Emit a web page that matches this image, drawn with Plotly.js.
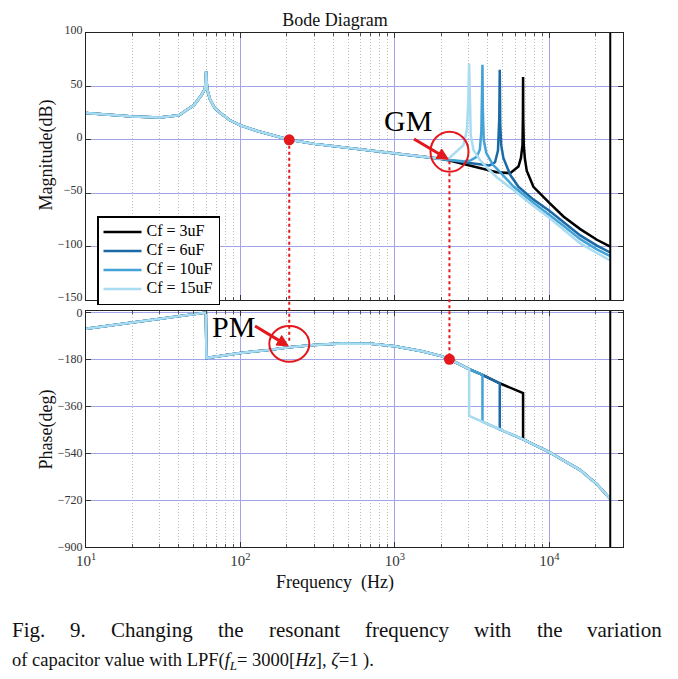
<!DOCTYPE html>
<html>
<head>
<meta charset="utf-8">
<script src="https://cdn.plot.ly/plotly-3.0.1.min.js"></script>
<style>
  html, body { margin: 0; padding: 0; background: #ffffff; }
  #chart { width: 678px; height: 679px; }
</style>
</head>
<body>
<div id="chart"></div>
<script>
// ---------------- DATA ----------------
const seriesNames = ['Cf = 3uF', 'Cf = 6uF', 'Cf = 10uF', 'Cf = 15uF'];
const resonanceHz = [6760, 4775, 3690, 3024];

// Magnitude (dB) – part shared by all four curves
const magFreqCommon = [10, 15, 20, 30, 40, 50, 56, 59, 59.7, 60, 60.3, 61, 63.5, 68, 74, 85, 100, 130, 160, 207, 300, 380, 500, 700, 1000, 1500, 2000];
const magCommon     = [25, 23.4, 21.8, 21, 23, 32.5, 42, 48, 56, 64, 56, 47, 38, 30, 25, 18.5, 13.5, 8, 4.5, 0, -3.8, -5.6, -7.3, -9.8, -12.5, -15.6, -17.8];

// Magnitude (dB) – individual parts above the gain-margin point
const magTailFreq3uF  = [2255, 2780, 3550, 4570, 5570, 6310, 6550, 6700, 6745, 6760, 6780, 6830, 6950, 7140, 7890, 10000, 12340, 15850, 20320, 24800];
const magTail3uF      = [-19.4, -22.5, -26.5, -30.3, -31.2, -25, -17, -5, 22, 58.7, 20, -5, -18, -29, -44, -59, -71.8, -83.6, -93.6, -100];
const magTailFreq6uF  = [2255, 2780, 3550, 4100, 4450, 4650, 4740, 4775, 4810, 4880, 5040, 5590, 6310, 7890, 10000, 12340, 15850, 20320, 24800];
const magTail6uF      = [-19, -21, -23, -24, -21, -10, 20, 65.5, 15, -5, -17, -33, -44, -56, -66.5, -77, -89.5, -99, -105.5];
const magTailFreq10uF = [2255, 2780, 3070, 3390, 3550, 3630, 3670, 3690, 3710, 3760, 3910, 4315, 4570, 5860, 7890, 10000, 12340, 15850, 20320, 24800];
const magTail10uF     = [-19, -20, -19.5, -16, -9, 8, 35, 70.2, 30, 0, -12.5, -23.4, -27, -43.7, -59, -70, -80.5, -93, -102.5, -109];
const magTailFreq15uF = [2255, 2518, 2780, 2925, 2990, 3024, 3050, 3100, 3226, 3554, 4000, 4570, 5860, 7890, 10000, 12340, 15850, 20320, 24800];
const magTail15uF     = [-17, -11, -5, 9, 38, 71.5, 30, 4, -9.4, -19, -27, -35, -47, -62, -73, -84, -97, -106, -113];

// Phase (deg) – shared part
const phaseFreqCommon = [10, 20, 30, 40, 50, 59.7, 60.3, 70, 80, 100, 150, 207, 300, 450, 700, 1000, 1500, 2000, 2255, 2518];
const phaseCommon     = [-63, -39, -25, -14.5, -7, -1, -175, -169, -164, -156, -145, -134, -125, -120, -121, -130, -149, -168, -180, -195];
// Phase (deg) – upper branch (before each resonance) and lower branch (after it)
const phaseUpperFreq = [3024, 3690, 4775, 6760];
const phaseUpper     = [-218, -240, -272, -310];
const phaseLowerFreq = [3024, 3690, 4775, 6760, 10000, 12340, 15850, 20320, 24800];
const phaseLower     = [-397, -419, -449, -487, -536, -569, -605, -659, -716];

// Marked points
const pmFreq = [207];   const pmMag = [0];       // 0 dB crossover
const gmFreq = [2255];  const gmPhase = [-180];  // -180 deg crossover
const nyquistHz = [24800];

const xTickVals = [10, 100, 1000, 10000];
const xTickText = ['10<sup>1</sup>', '10<sup>2</sup>', '10<sup>3</sup>', '10<sup>4</sup>'];
const magTickVals = [-150, -100, -50, 0, 50, 100];
const phaseTickVals = [-900, -720, -540, -360, -180, 0];

// ---------------- STYLE ----------------
const seriesColors = ['#000000', '#1b6aa5', '#43a3d6', '#a9dcf1'];
const serif = 'Liberation Serif, Times New Roman, serif';
const red = '#e3171c';
const majorGrid = '#a3a3e8';
const minorGrid = '#bdbdbd';

const xRange = [1, 4.477];
const dom1 = [0.4805, 1], rng1 = [-150, 100];
const dom2 = [0, 0.4591], rng2 = [-900, 5];
function paperY(dom, rng, v) { return dom[0] + (v - rng[0]) / (rng[1] - rng[0]) * (dom[1] - dom[0]); }

const minorVals = [];
[10, 100, 1000, 10000].forEach(d => { for (let k = 2; k <= 9; k++) if (d * k < 30000) minorVals.push(d * k); });

const magTails = [[magTailFreq3uF, magTail3uF], [magTailFreq6uF, magTail6uF], [magTailFreq10uF, magTail10uF], [magTailFreq15uF, magTail15uF]];

const traces = [];
for (let i = 0; i < 4; i++) {
  traces.push({
    x: magFreqCommon.concat(magTails[i][0]),
    y: magCommon.concat(magTails[i][1]),
    xaxis: 'x', yaxis: 'y', mode: 'lines', type: 'scatter',
    name: '<span style="font-size:16px">' + seriesNames[i] + '</span>',
    legendgroup: 'g' + i,
    line: { color: seriesColors[i], width: 2.5 }
  });
}
for (let i = 0; i < 4; i++) {
  const fr = resonanceHz[i];
  const px = phaseFreqCommon.slice(), pyv = phaseCommon.slice();
  phaseUpperFreq.forEach((f, j) => { if (f <= fr) { px.push(f); pyv.push(phaseUpper[j]); } });
  phaseLowerFreq.forEach((f, j) => { if (f >= fr) { px.push(f); pyv.push(phaseLower[j]); } });
  traces.push({
    x: px, y: pyv, xaxis: 'x2', yaxis: 'y2', mode: 'lines', type: 'scatter',
    name: seriesNames[i], legendgroup: 'g' + i, showlegend: false,
    line: { color: seriesColors[i], width: 2.5 }
  });
}
traces.push({ x: pmFreq, y: pmMag, xaxis: 'x', yaxis: 'y', mode: 'markers', showlegend: false,
  marker: { color: red, size: 11 } });
traces.push({ x: gmFreq, y: gmPhase, xaxis: 'x2', yaxis: 'y2', mode: 'markers', showlegend: false,
  marker: { color: red, size: 11 } });

function xAxis(anchor, labels) {
  return {
    type: 'log', range: xRange, anchor: anchor, domain: [0, 1],
    tickmode: 'array', tickvals: xTickVals, ticktext: xTickText, showticklabels: labels,
    ticks: 'inside', ticklen: 5, tickcolor: '#333', mirror: 'allticks',
    showline: true, linecolor: '#222', linewidth: 1,
    showgrid: true, gridcolor: majorGrid, gridwidth: 1, zeroline: false,
    tickfont: { family: serif, size: 15, color: '#333' },
    minor: { tickmode: 'array', tickvals: minorVals, ticks: 'inside', ticklen: 3, tickcolor: '#555',
             showgrid: true, gridcolor: minorGrid, griddash: '1px,2px', gridwidth: 1 }
  };
}
function yAxis(anchor, dom, rng, vals, shift) {
  return {
    domain: dom, range: rng, anchor: anchor,
    tickmode: 'array', tickvals: vals, ticklabelshift: shift,
    ticks: 'inside', ticklen: 5, tickcolor: '#333', mirror: 'allticks',
    showline: true, linecolor: '#222', linewidth: 1,
    showgrid: true, gridcolor: majorGrid, gridwidth: 1, zeroline: false,
    tickfont: { family: serif, size: 12, color: '#333' }
  };
}

const W = 678, H = 679, mL = 86, mR = 55, mT = 33, mB = 132;
const plotH = H - mT - mB, plotW = W - mL - mR;
function px2paperX(p) { return (p - mL) / plotW; }
function px2paperY(p) { return (H - mB - p) / plotH; }

// red arrow (line + filled head) between two picture positions
function arrowShapes(tail, tip) {
  const dx = tip[0] - tail[0], dy = tip[1] - tail[1], L = Math.hypot(dx, dy);
  const ux = dx / L, uy = dy / L, nx = -uy, ny = ux, hl = 11, hw = 5.5;
  const bx = tip[0] - hl * ux, by = tip[1] - hl * uy;
  const p = (x, y) => px2paperX(x) + ',' + px2paperY(y);
  return [
    { type: 'line', xref: 'paper', yref: 'paper', x0: px2paperX(tail[0]), y0: px2paperY(tail[1]),
      x1: px2paperX(bx + 2 * ux), y1: px2paperY(by + 2 * uy), line: { color: red, width: 3 } },
    { type: 'path', xref: 'paper', yref: 'paper',
      path: 'M' + p(tip[0], tip[1]) + ' L' + p(bx + hw * nx, by + hw * ny) + ' L' + p(bx - hw * nx, by - hw * ny) + ' Z',
      fillcolor: red, line: { color: red, width: 1 } }
  ];
}

const shapes = [
  { type: 'line', xref: 'x', yref: 'y domain', x0: nyquistHz[0], x1: nyquistHz[0], y0: 0, y1: 1, line: { color: '#000', width: 2 } },
  { type: 'line', xref: 'x2', yref: 'y2 domain', x0: nyquistHz[0], x1: nyquistHz[0], y0: 0, y1: 1, line: { color: '#000', width: 2 } },
  // dotted guide lines
  { type: 'line', xref: 'x', yref: 'paper', x0: pmFreq[0], x1: pmFreq[0], y0: paperY(dom1, rng1, pmMag[0]), y1: paperY(dom2, rng2, -118),
    line: { color: red, width: 2, dash: 'dot' } },
  { type: 'line', xref: 'x', yref: 'paper', x0: gmFreq[0], x1: gmFreq[0], y0: paperY(dom1, rng1, -20), y1: paperY(dom2, rng2, gmPhase[0]),
    line: { color: red, width: 2, dash: 'dot' } },
  // circles
  { type: 'circle', xref: 'paper', yref: 'paper', x0: px2paperX(430.5), x1: px2paperX(468.5),
    y0: px2paperY(171.7), y1: px2paperY(131.7), line: { color: red, width: 2 } },
  { type: 'circle', xref: 'paper', yref: 'paper', x0: px2paperX(269.3), x1: px2paperX(309.3),
    y0: px2paperY(361.7), y1: px2paperY(326), line: { color: red, width: 2 } }
].concat(arrowShapes([414, 139], [448.3, 159.3]), arrowShapes([255, 326], [288.3, 346]));

const cap1Font = { family: serif, size: 21, color: '#111' };
const cap2Font = { family: serif, size: 18.5, color: '#111' };
const line1Words = ['Fig.', '9.', 'Changing', 'the', 'resonant', 'frequency', 'with', 'the', 'variation'];
const line1X = [10, 68.4, 109.2, 216, 266.8, 363, 472.1, 534.5, 585.3];

const annotations = [
  { text: 'GM', xref: 'paper', yref: 'paper', x: px2paperX(408), y: px2paperY(121), showarrow: false,
    xanchor: 'center', yanchor: 'middle', font: { family: serif, size: 30, color: '#000' } },
  { text: 'PM', xref: 'paper', yref: 'paper', x: px2paperX(233), y: px2paperY(326.5), showarrow: false,
    xanchor: 'center', yanchor: 'middle', font: { family: serif, size: 30, color: '#000' } },
  { text: 'Magnitude(dB)', xref: 'paper', yref: 'paper', x: px2paperX(45.5), y: px2paperY(155), textangle: -90,
    showarrow: false, xanchor: 'center', yanchor: 'middle', font: { family: serif, size: 18, color: '#111' } },
  { text: 'Phase(deg)', xref: 'paper', yref: 'paper', x: px2paperX(45.5), y: px2paperY(430), textangle: -90,
    showarrow: false, xanchor: 'center', yanchor: 'middle', font: { family: serif, size: 18, color: '#111' } },
  { text: 'Frequency\u00a0\u00a0(Hz)', xref: 'paper', yref: 'paper', x: px2paperX(335), y: px2paperY(582),
    showarrow: false, xanchor: 'center', yanchor: 'middle', font: { family: serif, size: 18, color: '#111' } },
  { text: 'of capacitor value with LPF(<i>f</i><sub><i>L</i></sub>= 3000[<i>Hz</i>], <i>ζ</i>=1 ).',
    xref: 'paper', yref: 'paper', x: px2paperX(10), y: px2paperY(661), showarrow: false,
    xanchor: 'left', yanchor: 'middle', font: cap2Font }
];
line1Words.forEach((w, i) => annotations.push({
  text: w, xref: 'paper', yref: 'paper', x: px2paperX(line1X[i]), y: px2paperY(630), showarrow: false,
  xanchor: 'left', yanchor: 'middle', font: cap1Font
}));

const layout = {
  width: W, height: H,
  margin: { l: mL, r: mR, t: mT, b: mB },
  paper_bgcolor: '#ffffff', plot_bgcolor: '#ffffff',
  title: { text: 'Bode Diagram', font: { family: serif, size: 18, color: '#111' },
           xref: 'paper', x: px2paperX(335), xanchor: 'center', yref: 'container', y: 1 - 20 / H, yanchor: 'middle' },
  xaxis: xAxis('y', false),
  xaxis2: xAxis('y2', true),
  yaxis: yAxis('x', dom1, rng1, magTickVals, -3),
  yaxis2: yAxis('x2', dom2, rng2, phaseTickVals, 0),
  showlegend: true,
  legend: { x: px2paperX(97), y: px2paperY(216), xanchor: 'left', yanchor: 'top',
            bgcolor: '#ffffff', bordercolor: '#000', borderwidth: 1.5,
            font: { family: serif, size: 11, color: '#000' }, itemwidth: 38, tracegroupgap: 0 },
  shapes: shapes,
  annotations: annotations
};

Plotly.newPlot('chart', traces, layout, { displayModeBar: false, staticPlot: true });
</script>
</body>
</html>
